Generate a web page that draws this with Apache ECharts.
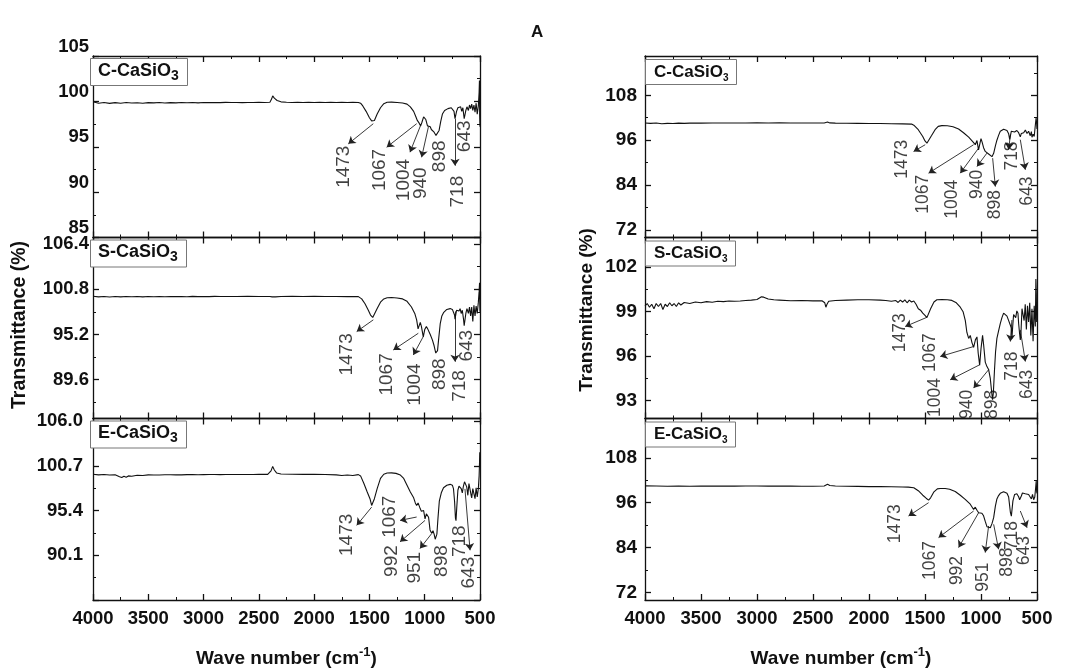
<!DOCTYPE html>
<html><head><meta charset="utf-8">
<script src="https://cdn.jsdelivr.net/npm/echarts@6/dist/echarts.min.js"></script>
<style>html,body{margin:0;padding:0;background:#fff}#c{width:1065px;height:669px}</style>
</head><body><div id="c"></div>
<script>
// ---------- x axis ----------
const xTicks = [4000,3500,3000,2500,2000,1500,1000,500];
const sampleNames = ['C-CaSiO','S-CaSiO','E-CaSiO'];

// ---------- spectra [wavenumber, transmittance] ----------
const specCLeft = [[4000,99.95],[3950,99.8],[3900,99.88],[3850,99.78],[3800,99.86],[3750,99.8],[3700,99.87],[3650,99.82],[3600,99.85],[3550,99.79],[3500,99.86],[3450,99.83],[3400,99.88],[3350,99.82],[3300,99.86],[3250,99.84],[3200,99.88],[3150,99.85],[3100,99.87],[3050,99.84],[3000,99.88],[2950,99.86],[2900,99.88],[2850,99.86],[2800,99.89],[2750,99.87],[2700,99.88],[2650,99.86],[2600,99.88],[2550,99.87],[2500,99.89],[2450,99.88],[2400,99.9],[2385,100.25],[2375,100.6],[2360,100.35],[2335,100.1],[2300,99.95],[2250,99.9],[2200,99.88],[2150,99.9],[2100,99.88],[2050,99.9],[2000,99.88],[1950,99.9],[1900,99.88],[1850,99.9],[1800,99.87],[1750,99.9],[1700,99.88],[1650,99.9],[1600,99.88],[1580,99.8],[1560,99.5],[1530,98.9],[1500,98.2],[1480,97.85],[1468,97.72],[1455,97.9],[1430,98.6],[1400,99.3],[1370,99.75],[1340,99.9],[1300,99.92],[1250,99.88],[1200,99.82],[1160,99.7],[1130,99.4],[1100,98.9],[1080,98.3],[1067,97.9],[1050,97.6],[1037,97.3],[1025,97.7],[1010,98.3],[1000,98.4],[990,98.0],[975,97.3],[960,97.5],[950,97.2],[940,96.9],[930,97.0],[915,96.6],[905,96.4],[898,96.25],[890,96.4],[880,96.3],[870,96.8],[855,97.8],[840,98.6],[820,99.0],[790,99.2],[760,99.3],[745,99.25],[735,98.9],[726,98.1],[718,98.0],[712,98.9],[700,99.3],[685,99.2],[675,99.4],[665,98.9],[655,99.3],[643,98.1],[636,98.0],[628,99.0],[618,99.4],[605,99.0],[595,99.6],[585,99.2],[575,99.7],[565,99.0],[555,99.6],[545,98.8],[535,99.8],[525,98.6],[515,99.5],[508,101.0],[505,102.3],[503,98.5],[500,97.2]];

const specSLeft = [[4000,99.92],[3950,99.85],[3900,99.9],[3850,99.84],[3800,99.9],[3750,99.85],[3700,99.9],[3650,99.86],[3600,99.9],[3550,99.85],[3500,99.9],[3450,99.87],[3400,99.9],[3350,99.86],[3300,99.9],[3250,99.88],[3200,99.9],[3150,99.87],[3100,99.91],[3050,99.88],[3000,99.9],[2950,99.88],[2900,99.91],[2850,99.89],[2800,99.9],[2700,99.9],[2600,99.91],[2500,99.9],[2400,99.9],[2380,99.85],[2365,99.65],[2350,99.85],[2300,99.9],[2200,99.92],[2100,99.9],[2000,99.92],[1900,99.9],[1800,99.9],[1700,99.88],[1600,99.88],[1570,99.6],[1540,99.0],[1510,98.2],[1490,97.6],[1470,97.3],[1455,97.5],[1430,98.4],[1400,99.2],[1370,99.6],[1340,99.75],[1300,99.78],[1250,99.72],[1200,99.6],[1160,99.3],[1120,98.6],[1090,97.8],[1073,97.0],[1060,95.9],[1050,95.9],[1040,96.7],[1030,96.2],[1013,94.9],[1000,95.8],[985,96.2],[970,95.8],[950,95.2],[930,94.5],[915,93.8],[900,92.9],[892,92.66],[884,93.2],[875,94.5],[860,96.5],[845,97.5],[830,97.9],[800,98.3],[770,98.4],[750,98.3],[740,98.2],[730,97.6],[726,97.1],[720,97.3],[712,98.2],[700,98.3],[690,98.1],[680,98.4],[670,97.8],[660,98.2],[650,97.2],[643,96.3],[636,96.2],[628,97.8],[618,98.4],[605,97.8],[595,98.6],[585,97.5],[575,98.6],[565,96.8],[555,98.8],[545,97.5],[535,98.7],[525,97.8],[515,99.2],[508,100.5],[504,101.6],[502,99.0],[500,98.0]];

const specELeft = [[4000,99.7],[3950,99.62],[3900,99.66],[3850,99.6],[3800,99.64],[3760,99.4],[3740,99.3],[3720,99.45],[3700,99.35],[3680,99.5],[3650,99.45],[3600,99.58],[3550,99.55],[3500,99.62],[3450,99.6],[3400,99.6],[3350,99.63],[3300,99.64],[3250,99.62],[3200,99.62],[3150,99.65],[3100,99.66],[3050,99.64],[3000,99.65],[2950,99.66],[2900,99.67],[2850,99.65],[2800,99.66],[2750,99.67],[2700,99.67],[2650,99.66],[2600,99.66],[2550,99.67],[2500,99.68],[2420,99.68],[2390,100.1],[2375,100.63],[2360,100.2],[2340,99.85],[2300,99.72],[2200,99.7],[2100,99.68],[2000,99.68],[1900,99.66],[1800,99.62],[1750,99.55],[1700,99.6],[1650,99.55],[1600,99.65],[1580,99.5],[1550,98.6],[1520,97.6],[1495,96.8],[1480,96.0],[1470,96.1],[1455,96.8],[1430,98.0],[1400,99.2],[1370,99.7],[1340,99.84],[1300,99.86],[1260,99.8],[1220,99.6],[1190,99.2],[1160,98.4],[1130,97.6],[1100,96.9],[1085,96.3],[1073,96.0],[1060,96.3],[1050,96.1],[1040,95.6],[1030,95.3],[1020,95.2],[1010,95.4],[997,94.4],[985,95.0],[976,95.2],[965,94.6],[952,93.1],[945,92.9],[937,92.7],[925,93.0],[915,92.6],[905,92.0],[898,91.9],[890,92.6],[880,94.5],[868,96.5],[850,97.5],[830,98.1],[800,98.4],[770,98.5],[750,98.4],[740,98.0],[730,96.5],[722,94.5],[717,94.2],[710,95.8],[700,97.8],[690,98.3],[680,98.4],[670,98.0],[660,97.5],[650,98.3],[640,98.8],[630,98.9],[620,98.2],[610,97.2],[600,98.6],[590,98.7],[580,97.2],[575,96.9],[565,98.0],[555,97.4],[545,96.8],[535,98.1],[525,97.0],[515,98.0],[508,99.5],[505,100.7],[502,102.3],[500,101.8]];

const specCRight = [[4000,100.6],[3950,100.5],[3900,100.6],[3850,100.4],[3800,100.5],[3750,100.45],[3700,100.55],[3650,100.5],[3600,100.55],[3500,100.55],[3400,100.6],[3300,100.58],[3200,100.6],[3100,100.6],[3000,100.62],[2900,100.6],[2800,100.62],[2700,100.6],[2600,100.58],[2500,100.58],[2400,100.6],[2370,100.85],[2350,100.62],[2300,100.55],[2200,100.52],[2100,100.5],[2000,100.48],[1900,100.45],[1800,100.4],[1700,100.35],[1620,100.3],[1600,100.0],[1560,98.8],[1520,97.0],[1500,95.8],[1483,95.2],[1470,95.5],[1440,97.3],[1410,98.8],[1382,99.7],[1350,99.9],[1300,99.88],[1250,99.6],[1200,99.0],[1156,98.0],[1110,96.8],[1070,95.5],[1051,94.8],[1036,95.9],[1022,93.4],[1007,95.5],[1000,96.4],[990,95.5],[977,94.0],[962,93.0],[947,92.6],[932,92.3],[917,92.0],[902,91.6],[893,91.2],[887,92.5],[872,94.4],[858,96.0],[843,97.3],[828,98.4],[813,98.7],[798,98.9],[783,98.8],[768,98.6],[753,97.7],[744,96.2],[738,96.5],[729,98.4],[715,98.7],[700,98.2],[690,97.9],[680,98.6],[664,98.0],[655,97.5],[649,96.9],[640,97.8],[630,98.3],[619,98.0],[604,98.7],[589,97.8],[575,98.4],[560,97.2],[550,98.3],[545,96.8],[535,97.6],[525,97.0],[515,100.0],[508,101.9],[503,100.5],[500,99.0]];

const specSRight = [[4000,99.4],[3980,99.55],[3960,99.3],[3940,99.5],[3920,99.2],[3900,99.55],[3880,99.35],[3860,99.55],[3840,99.15],[3820,99.5],[3800,99.35],[3780,99.6],[3760,99.4],[3740,99.55],[3720,99.35],[3700,99.6],[3680,99.45],[3650,99.62],[3600,99.55],[3550,99.65],[3500,99.6],[3450,99.68],[3400,99.64],[3350,99.7],[3300,99.68],[3250,99.72],[3200,99.7],[3150,99.72],[3100,99.75],[3050,99.78],[3000,99.82],[2960,100.0],[2940,99.98],[2900,99.85],[2850,99.8],[2800,99.78],[2700,99.74],[2600,99.75],[2500,99.73],[2420,99.74],[2395,99.6],[2385,99.3],[2375,99.5],[2360,99.7],[2300,99.75],[2200,99.78],[2100,99.8],[2000,99.8],[1900,99.78],[1850,99.75],[1800,99.7],[1760,99.75],[1740,99.62],[1720,99.78],[1700,99.65],[1680,99.8],[1660,99.6],[1640,99.78],[1620,99.65],[1600,99.72],[1580,99.5],[1560,99.2],[1540,99.1],[1520,98.9],[1500,98.75],[1483,98.6],[1470,98.7],[1450,99.2],[1420,99.65],[1394,99.8],[1350,99.82],[1300,99.8],[1260,99.76],[1220,99.6],[1185,99.3],[1160,99.0],[1140,98.4],[1126,97.6],[1110,97.2],[1096,97.4],[1080,96.9],[1066,96.6],[1050,97.1],[1036,97.3],[1025,96.2],[1012,95.4],[1000,96.5],[986,97.4],[977,96.8],[962,95.6],[947,95.3],[932,95.1],[917,94.5],[905,93.6],[897,93.07],[890,93.5],[880,95.0],[870,96.3],[858,97.2],[843,97.7],[828,98.2],[813,98.6],[798,98.9],[783,98.9],[768,98.7],[753,98.4],[738,98.3],[729,97.9],[724,97.2],[717,98.0],[709,98.8],[700,98.9],[690,98.6],[680,99.05],[670,98.9],[664,98.2],[655,97.5],[649,97.1],[643,97.6],[634,99.2],[625,99.3],[615,98.4],[605,99.5],[595,97.8],[585,99.4],[575,98.3],[565,99.6],[555,97.4],[545,99.2],[535,97.0],[525,99.4],[515,98.0],[510,101.2],[506,100.2],[503,98.3],[500,99.0]];

const specERight = [[4000,100.5],[3900,100.45],[3800,100.4],[3700,100.45],[3600,100.4],[3500,100.42],[3400,100.44],[3300,100.45],[3200,100.44],[3100,100.46],[3000,100.45],[2900,100.44],[2800,100.44],[2700,100.42],[2600,100.4],[2500,100.4],[2400,100.45],[2370,100.9],[2350,100.6],[2300,100.45],[2200,100.4],[2100,100.35],[2000,100.3],[1900,100.3],[1800,100.25],[1700,100.2],[1650,100.15],[1600,100.0],[1560,99.2],[1520,98.0],[1490,97.2],[1468,96.7],[1450,97.3],[1420,98.9],[1390,99.7],[1364,99.8],[1320,99.8],[1280,99.6],[1230,99.0],[1185,98.0],[1141,96.9],[1096,95.6],[1066,94.2],[1051,94.8],[1036,94.0],[1021,93.3],[1007,92.9],[992,93.2],[977,92.5],[962,91.0],[947,89.6],[932,89.5],[917,89.3],[902,90.4],[893,90.0],[887,92.0],[872,95.0],[858,97.0],[843,97.9],[828,98.5],[813,98.8],[798,98.9],[783,98.7],[768,98.5],[753,97.5],[738,93.5],[729,92.4],[724,92.8],[715,96.5],[700,98.2],[690,98.6],[680,98.4],[664,97.6],[655,96.8],[649,96.3],[640,97.8],[630,98.6],[620,98.7],[605,98.4],[590,98.6],[575,98.2],[560,98.6],[550,97.0],[540,98.2],[530,96.8],[520,97.5],[512,100.0],[507,101.8],[503,99.0],[500,98.5]];

// ---------- peak annotations: [label, tailWn, tailT, headWn, headT, labelWn, labelTopT] ----------
const annCLeft = [['1473',1465,97.54,1691,95.32,1736,95.13],['1067',1073,97.54,1344,94.95,1404,94.77],['1004',1037,97.36,1133,94.4,1193,93.66],['940',967,97.17,1028,93.84,1037,92.73],['898',null,null,null,null,862,95.69],['718',726,98.09,726,92.92,705,91.8],['643',null,null,null,null,636,97.9]];
const annSLeft = [['1473',1465,97.01,1615,95.56,1706,95.35],['1067',1058,95.35,1284,93.28,1344,92.87],['1004',1013,94.94,1103,92.66,1088,91.62],['898',null,null,null,null,862,92.24],['718',726,98.05,726,91.83,687,90.79],['643',null,null,null,null,620,95.77]];
const annELeft = [['1473',1480,95.8,1615,93.64,1706,95.02],['1067',1073,94.63,1223,94.23,1314,97.17],['992',997,94.23,1223,91.69,1299,91.29],['951',937,92.67,1043,90.9,1088,90.5],['898',null,null,null,null,847,91.29],['718',null,null,null,null,681,93.64],['643',636,97.96,590,90.69,605,89.92]];
const annCRight = [['1473',1498,94.79,1602,93.0,1706,96.13],['1067',1066,94.79,1468,87.2,1513,86.75],['1004',1021,93.9,1185,87.2,1260,85.4],['940',947,92.55,1036,88.98,1036,88.1],['898',896,91.2,872,83.6,872,82.7],['718',738,97.46,753,93.45,724,95.68],['643',649,96.13,604,88.1,589,86.3]];
const annSRight = [['1473',1483,98.62,1677,98.0,1721,98.89],['1067',1066,96.65,1364,95.98,1453,97.55],['1004',1012,95.42,1275,94.41,1409,94.53],['940',932,95.09,1066,93.85,1126,93.74],['898',null,null,null,null,902,93.74],['718',724,98.44,738,96.99,724,96.32],['643',649,97.77,604,95.64,589,95.09]];
const annERight = [['1473',1468,96.0,1647,92.44,1766,95.56],['1067',1066,93.78,1379,86.67,1453,85.78],['992',1021,93.33,1200,84.0,1215,81.78],['951',932,89.78,962,82.67,977,80.0],['898',887,90.22,843,83.56,768,84.0],['718',null,null,null,null,724,91.1],['643',649,93.78,589,89.33,619,87.11]];

// ---------- y axes: ranges, major ticks (labelled), minor ticks ----------
const yRangeCLeft = [85,105],   yMajorCLeft = [85,90,95,100,105],       yLabelCLeft = [85,90,95,100,105],    yMinorCLeft = [87.5,92.5,97.5,102.5];
const yRangeSLeft = [84.8,107.2], yMajorSLeft = [89.6,95.2,100.8,106.4], yLabelSLeft = [89.6,95.2,100.8,106.4], yMinorSLeft = [86.8,92.4,98.0,103.6];
const yRangeELeft = [84.8,106.3], yMajorELeft = [84.8,90.1,95.4,100.7,106.0], yLabelELeft = [90.1,95.4,100.7,106.0], yMinorELeft = [87.45,92.75,98.05,103.35];
const yRangeCRight = [70,118.5], yMajorCRight = [72,84,96,108], yLabelCRight = [72,84,96,108], yMinorCRight = [78,90,102,114];
const yRangeSRight = [91.8,104], yMajorSRight = [93,96,99,102], yLabelSRight = [93,96,99,102], yMinorSRight = [94.5,97.5,100.5,103.5];
const yRangeERight = [70,118.5], yMajorERight = [72,84,96,108], yLabelERight = [72,84,96,108], yMinorERight = [78,90,102,114];

// ---------- layout ----------
const FONT = 'Liberation Sans, Arial, sans-serif';
const rowsTop = [56, 237.5, 418.5], rowsH = [181.5, 181, 181.5];
const cols = [{left:93,width:387,dec:[0,1,1],lblFont:18.5,annFont:19,lblMargin:[4,4,10],box:{fs:18,sub:14}},
              {left:645,width:392,dec:[0,0,0],lblFont:19,annFont:17.5,lblMargin:[8,8,8],box:{fs:17,sub:10}}];

const panels = [
  {col:0,row:0,spec:specCLeft,ann:annCLeft,range:yRangeCLeft,major:yMajorCLeft,label:yLabelCLeft,minor:yMinorCLeft,name:sampleNames[0],up:true},
  {col:0,row:1,spec:specSLeft,ann:annSLeft,range:yRangeSLeft,major:yMajorSLeft,label:yLabelSLeft,minor:yMinorSLeft,name:sampleNames[1]},
  {col:0,row:2,spec:specELeft,ann:annELeft,range:yRangeELeft,major:yMajorELeft,label:yLabelELeft,minor:yMinorELeft,name:sampleNames[2]},
  {col:1,row:0,spec:specCRight,ann:annCRight,range:yRangeCRight,major:yMajorCRight,label:yLabelCRight,minor:yMinorCRight,name:sampleNames[0]},
  {col:1,row:1,spec:specSRight,ann:annSRight,range:yRangeSRight,major:yMajorSRight,label:yLabelSRight,minor:yMinorSRight,name:sampleNames[1]},
  {col:1,row:2,spec:specERight,ann:annERight,range:yRangeERight,major:yMajorERight,label:yLabelERight,minor:yMinorERight,name:sampleNames[2]}
];

const grid = [], xAxis = [], yAxis = [], series = [], title = [];
title.push({text:'A', left:526, top:19, textStyle:{fontFamily:FONT,fontSize:17,fontWeight:'bold',color:'#111'}});
const LINE = {color:'#111', width:1.3};

panels.forEach((p, g) => {
  const c = cols[p.col];
  grid.push({left:c.left, top:rowsTop[p.row], width:c.width, height:rowsH[p.row], containLabel:false});
  const bottomRow = p.row === 2;
  const xBase = {gridIndex:g, type:'value', min:500, max:4000, interval:500, inverse:true,
    splitLine:{show:false},
    axisLine:{show:true,onZero:false,lineStyle:LINE},
    axisTick:{show:true,inside:true,length:6,lineStyle:LINE},
    minorTick:{show:true,splitNumber:2,length:3,lineStyle:{color:'#111',width:1}}};
  xAxis.push(Object.assign({}, xBase, {position:'bottom',
    axisLabel:{show:bottomRow, margin:9, fontFamily:FONT, fontSize:18.5, fontWeight:'bold', color:'#111',
      formatter: v => xTicks.includes(v) ? String(v) : ''},
    name: bottomRow ? '{a|Wave number (cm}{s|-1}{a|)}' : '', nameLocation:'middle', nameGap:46,
    nameTextStyle:{rich:{a:{fontFamily:FONT,fontSize:19,fontWeight:'bold',color:'#111'},
                         s:{fontFamily:FONT,fontSize:13,fontWeight:'bold',color:'#111',padding:[0,0,12,0]}}}}));
  xAxis.push(Object.assign({}, xBase, {position:'top', axisLabel:{show:false}}));
  const dec = c.dec[p.row];
  const yBase = {gridIndex:g, type:'value', min:p.range[0], max:p.range[1], splitLine:{show:false}, scale:true};
  yAxis.push(Object.assign({}, yBase, {position:'left',
    axisLine:{show:true,onZero:false,lineStyle:LINE},
    axisTick:{show:true,inside:true,length:6,customValues:p.major,lineStyle:LINE},
    axisLabel:{show:true,customValues:p.label,margin:c.lblMargin[p.row],fontFamily:FONT,fontSize:c.lblFont,fontWeight:'bold',color:'#111',
      verticalAlign: p.up ? 'bottom' : 'middle', formatter: v => v.toFixed(dec)}}));
  yAxis.push(Object.assign({}, yBase, {position:'left', axisLine:{show:false},
    axisTick:{show:true,inside:true,length:3,customValues:p.minor,lineStyle:{color:'#111',width:1}}, axisLabel:{show:false}}));
  yAxis.push(Object.assign({}, yBase, {position:'right',
    axisLine:{show:true,onZero:false,lineStyle:LINE},
    axisTick:{show:true,inside:true,length:6,customValues:p.major,lineStyle:LINE}, axisLabel:{show:false}}));
  yAxis.push(Object.assign({}, yBase, {position:'right', axisLine:{show:false},
    axisTick:{show:true,inside:true,length:3,customValues:p.minor,lineStyle:{color:'#111',width:1}}, axisLabel:{show:false}}));

  const xi = 2*g, yi = 4*g;
  series.push({type:'line', xAxisIndex:xi, yAxisIndex:yi, data:p.spec, showSymbol:false, symbol:'none',
    lineStyle:{color:'#111', width:1.1}, animation:false, silent:true});
  series.push({type:'lines', coordinateSystem:'cartesian2d', xAxisIndex:xi, yAxisIndex:yi,
    symbol:['none','arrow'], symbolSize:7, animation:false, silent:true,
    lineStyle:{color:'#222', width:0.9, opacity:1},
    data: p.ann.filter(a => a[1] !== null).map(a => ({coords:[[a[1],a[2]],[a[3],a[4]]]}))});
  series.push({type:'scatter', xAxisIndex:xi, yAxisIndex:yi, symbolSize:1, animation:false, silent:true,
    itemStyle:{color:'rgba(0,0,0,0)'},
    label:{show:true, position:'inside', rotate:90, align:'right', verticalAlign:'middle',
      fontFamily:FONT, fontSize:c.annFont, color:'#111', formatter: q => q.name},
    data: p.ann.map(a => ({name:a[0], value:[a[5], a[6]]}))});

  const big = p.col === 0;
  title.push({text:'{a|' + p.name + '}{s|3}', left:c.left - (big ? 3 : 0), top:rowsTop[p.row] - (big ? 1 : 0),
    borderColor:'#777', borderWidth:1, backgroundColor:'#fff',
    padding: big ? [4,9,3,8] : [4,8,2,9],
    textStyle:{rich:{a:{fontFamily:FONT,fontSize:c.box.fs,fontWeight:'bold',color:'#111',lineHeight:24},
                     s:{fontFamily:FONT,fontSize:c.box.sub,fontWeight:'bold',color:'#111',padding:[big?10:12,0,0,0]}}}});
});

const chart = echarts.init(document.getElementById('c'), null, {renderer:'canvas'});
chart.setOption({
  backgroundColor:'#fff', animation:false,
  title, grid, xAxis, yAxis, series,
  graphic:[
    {type:'text', x:20, y:325, rotation:Math.PI/2, style:{text:'Transmittance (%)', fontFamily:FONT, fontSize:19.5, fontWeight:'bold', fill:'#111', align:'center', verticalAlign:'middle'}},
    {type:'text', x:587, y:310, rotation:Math.PI/2, style:{text:'Transmittance (%)', fontFamily:FONT, fontSize:19, fontWeight:'bold', fill:'#111', align:'center', verticalAlign:'middle'}}
  ]
});
</script></body></html>
